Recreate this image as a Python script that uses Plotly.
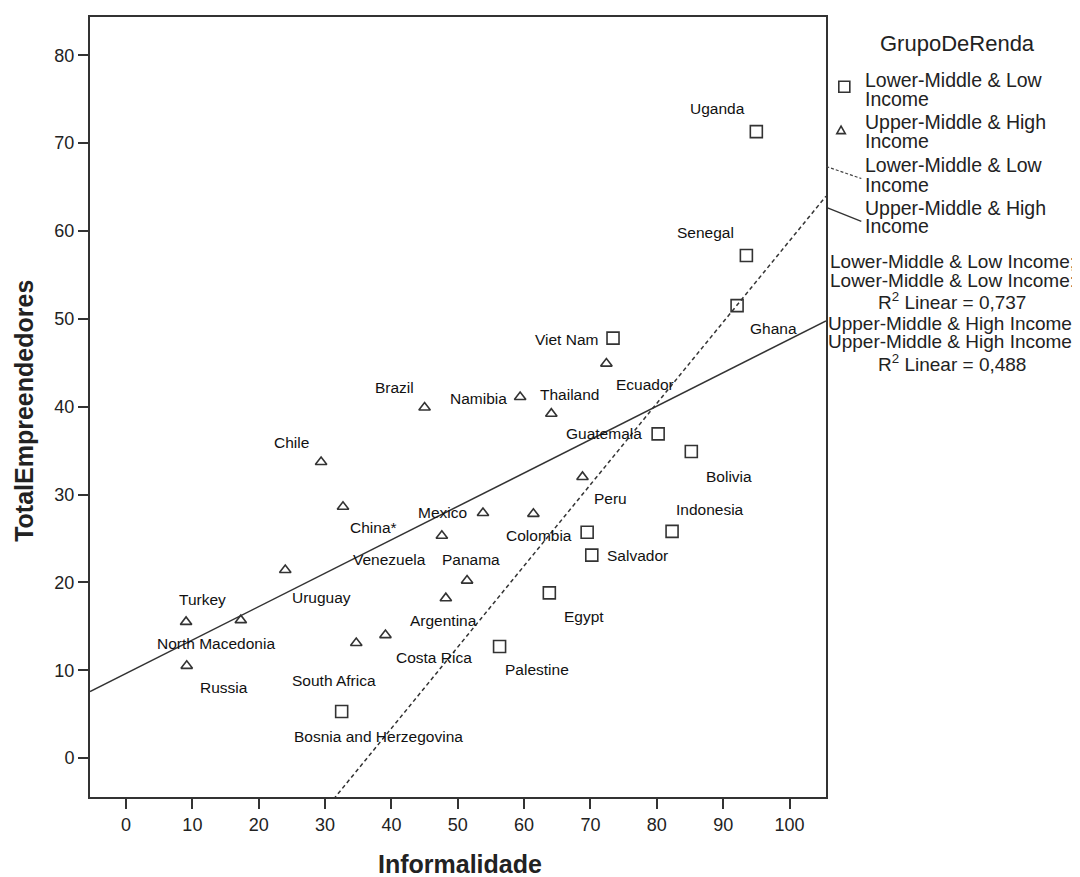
import plotly.graph_objects as go

# ---------------- data ----------------
low_names = ["Uganda", "Senegal", "Ghana", "Viet Nam", "Guatemala", "Bolivia",
             "Indonesia", "Colombia", "Salvador", "Egypt", "Palestine",
             "Bosnia and Herzegovina"]
low_x = [95.0, 93.5, 92.1, 73.4, 80.2, 85.2, 82.3, 69.5, 70.2, 63.8, 56.3, 32.5]
low_y = [71.3, 57.2, 51.5, 47.8, 36.9, 34.9, 25.8, 25.7, 23.1, 18.8, 12.7, 5.3]

high_names = ["Ecuador", "Namibia", "Thailand", "Brazil", "Chile", "China*", "Peru",
              "Mexico", "", "Venezuela", "Panama", "Argentina", "Uruguay", "Turkey",
              "North Macedonia", "Russia", "South Africa", "Costa Rica"]
high_x = [72.4, 59.4, 64.1, 45.0, 29.4, 32.7, 68.8, 53.8, 61.4, 47.6, 51.4, 48.2,
          24.0, 9.05, 17.3, 9.15, 34.7, 39.1]
high_y = [44.9, 41.1, 39.2, 39.9, 33.7, 28.6, 32.0, 27.9, 27.8, 25.3, 20.2, 18.2,
          21.4, 15.5, 15.7, 10.5, 13.1, 14.0]

# linear fit lines (intercept, slope) as drawn in the picture
low_fit = (-33.6, 0.9247)
high_fit = (9.63, 0.3804)
r2_low = "0,737"
r2_high = "0,488"

x_ticks = [0, 10, 20, 30, 40, 50, 60, 70, 80, 90, 100]
y_ticks = [0, 10, 20, 30, 40, 50, 60, 70, 80]

group_title = "GrupoDeRenda"
low_label = "Lower-Middle & Low Income"
high_label = "Upper-Middle & High Income"

# ---------------- layout helpers ----------------
W_FIG, H_FIG = 1080, 877
OFF = 8                      # page body margin in the screenshot
L, R, T, B = 90, 825.7, 15, 797.3   # plot frame in screen pixels
XR = [-5.43, 105.5]
YR = [-4.43, 84.35]

def pxx(px):
    return (px - L) / (R - L)

def pxy(py):
    return (B - py) / (B - T)

FONT = "Liberation Sans, Arial, sans-serif"
INK = "#222222"

# label offsets in screen pixels (dx right, dy down) relative to each point
LABEL_OFFSETS = {
    "Uganda": (-39, -23), "Senegal": (-41, -23), "Ghana": (36, 23),
    "Viet Nam": (-47, 1), "Guatemala": (-54, 0), "Bolivia": (38, 25),
    "Indonesia": (38, -22), "Colombia": (-48, 3), "Salvador": (46, 0),
    "Egypt": (35, 24), "Palestine": (37, 23), "Bosnia and Herzegovina": (37, 25),
    "Ecuador": (39, 21), "Namibia": (-42, 2), "Thailand": (18, -19),
    "Brazil": (-30, -20), "Chile": (-30, -20), "China*": (31, 21),
    "Peru": (28, 22), "Mexico": (-40, 0), "Venezuela": (-52, 24),
    "Panama": (4, -21), "Argentina": (-2, 22), "Uruguay": (36, 27),
    "Turkey": (16, -22), "North Macedonia": (-25, 23), "Russia": (37, 22),
    "South Africa": (-22, 38), "Costa Rica": (49, 22),
}

fig = go.Figure()

xs_line = [XR[0], XR[1]]
fig.add_trace(go.Scatter(
    x=xs_line, y=[low_fit[0] + low_fit[1] * v for v in xs_line],
    mode="lines", line=dict(color="#333333", width=1.5, dash="4px,3px"),
    showlegend=False, hoverinfo="skip"))
fig.add_trace(go.Scatter(
    x=xs_line, y=[high_fit[0] + high_fit[1] * v for v in xs_line],
    mode="lines", line=dict(color="#333333", width=1.5),
    showlegend=False, hoverinfo="skip"))

fig.add_trace(go.Scatter(
    x=low_x, y=low_y, mode="markers", name=low_label,
    marker=dict(symbol="square-open", size=12, color="#333333",
                line=dict(width=1.6, color="#333333")),
    showlegend=False))
fig.add_trace(go.Scatter(
    x=high_x, y=high_y, mode="markers", name=high_label,
    marker=dict(symbol="triangle-up-open", size=10, color="#333333",
                line=dict(width=1.6, color="#333333")),
    showlegend=False))

annotations = []
for names, xv, yv in ((low_names, low_x, low_y), (high_names, high_x, high_y)):
    for n, a, b in zip(names, xv, yv):
        if not n:
            continue
        dx, dy = LABEL_OFFSETS.get(n, (0, -20))
        annotations.append(dict(
            x=a, y=b, xref="x", yref="y", text=n, showarrow=False,
            xanchor="center", yanchor="middle",
            xshift=dx, yshift=-dy, font=dict(family=FONT, size=15.5, color="#111111")))

# axis titles
annotations.append(dict(
    x=pxx(460), y=pxy(864), xref="paper", yref="paper", text="<b>Informalidade</b>",
    xanchor="center", yanchor="middle",
    showarrow=False, font=dict(family=FONT, size=25, color=INK)))
annotations.append(dict(
    x=pxx(24), y=pxy(410), xref="paper", yref="paper", text="<b>TotalEmpreendedores</b>",
    xanchor="center", yanchor="middle",
    textangle=-90, showarrow=False,
    font=dict(family=FONT, size=25, color=INK)))

# legend (manual)
def legtext(txt, px, py, size=19.5, xanchor="left"):
    annotations.append(dict(
        x=pxx(px), y=pxy(py), xref="paper", yref="paper", text=txt, showarrow=False,
        xanchor=xanchor, yanchor="middle", font=dict(family=FONT, size=size, color=INK)))

legtext(group_title, 957, 42, size=22, xanchor="center")
low_a, low_b = "Lower-Middle & Low", "Income"
high_a, high_b = "Upper-Middle & High", "Income"
legtext(low_a, 863, 78)
legtext(low_b, 863, 97)
legtext(high_a, 863, 120)
legtext(high_b, 863, 139)
legtext(low_a, 863, 163)
legtext(low_b, 863, 183)
legtext(high_a, 863, 207)
legtext(high_b, 863, 225)

r2_lines = [
    (low_label + ";", 260), (low_label + ":", 279),
    ("R<sup>2</sup> Linear = " + r2_low, 300),
    (high_label + ";", 322), (high_label + ":", 340),
    ("R<sup>2</sup> Linear = " + r2_high, 362),
]
for txt, py in r2_lines:
    legtext(txt, 952, py, size=19, xanchor="center")

shapes = [
    dict(type="rect", xref="paper", yref="paper",
         x0=pxx(838.5), x1=pxx(849.5), y0=pxy(90.5), y1=pxy(79.5),
         line=dict(color="#333333", width=1.6)),
    dict(type="path", xref="paper", yref="paper",
         path="M {a},{b} L {c},{b} L {d},{e} Z".format(
             a=pxx(836.5), b=pxy(132), c=pxx(845), d=pxx(840.75), e=pxy(124.5)),
         line=dict(color="#333333", width=1.6)),
    dict(type="line", xref="paper", yref="paper",
         x0=pxx(826), y0=pxy(165), x1=pxx(861), y1=pxy(177),
         line=dict(color="#444444", width=1.2, dash="3px,2px")),
    dict(type="line", xref="paper", yref="paper",
         x0=pxx(826), y0=pxy(206), x1=pxx(861), y1=pxy(220),
         line=dict(color="#333333", width=1.4)),
]

axis_common = dict(
    showgrid=False, zeroline=False, showline=True, mirror=True,
    linecolor="#333333", linewidth=2, ticks="outside", ticklen=10,
    tickwidth=2, tickcolor="#333333",
    tickfont=dict(family=FONT, size=18, color=INK),
)

fig.update_layout(
    width=W_FIG, height=H_FIG,
    margin=dict(l=L - OFF, r=W_FIG - (R - OFF), t=T - OFF, b=H_FIG - (B - OFF), pad=0),
    paper_bgcolor="white", plot_bgcolor="white",
    xaxis=dict(range=XR, tickvals=x_ticks, ticktext=[str(v) for v in x_ticks], **axis_common),
    yaxis=dict(range=YR, tickvals=y_ticks, ticktext=[str(v) for v in y_ticks], **axis_common),
    annotations=annotations, shapes=shapes, showlegend=False,
)

fig.write_html("out.html")
